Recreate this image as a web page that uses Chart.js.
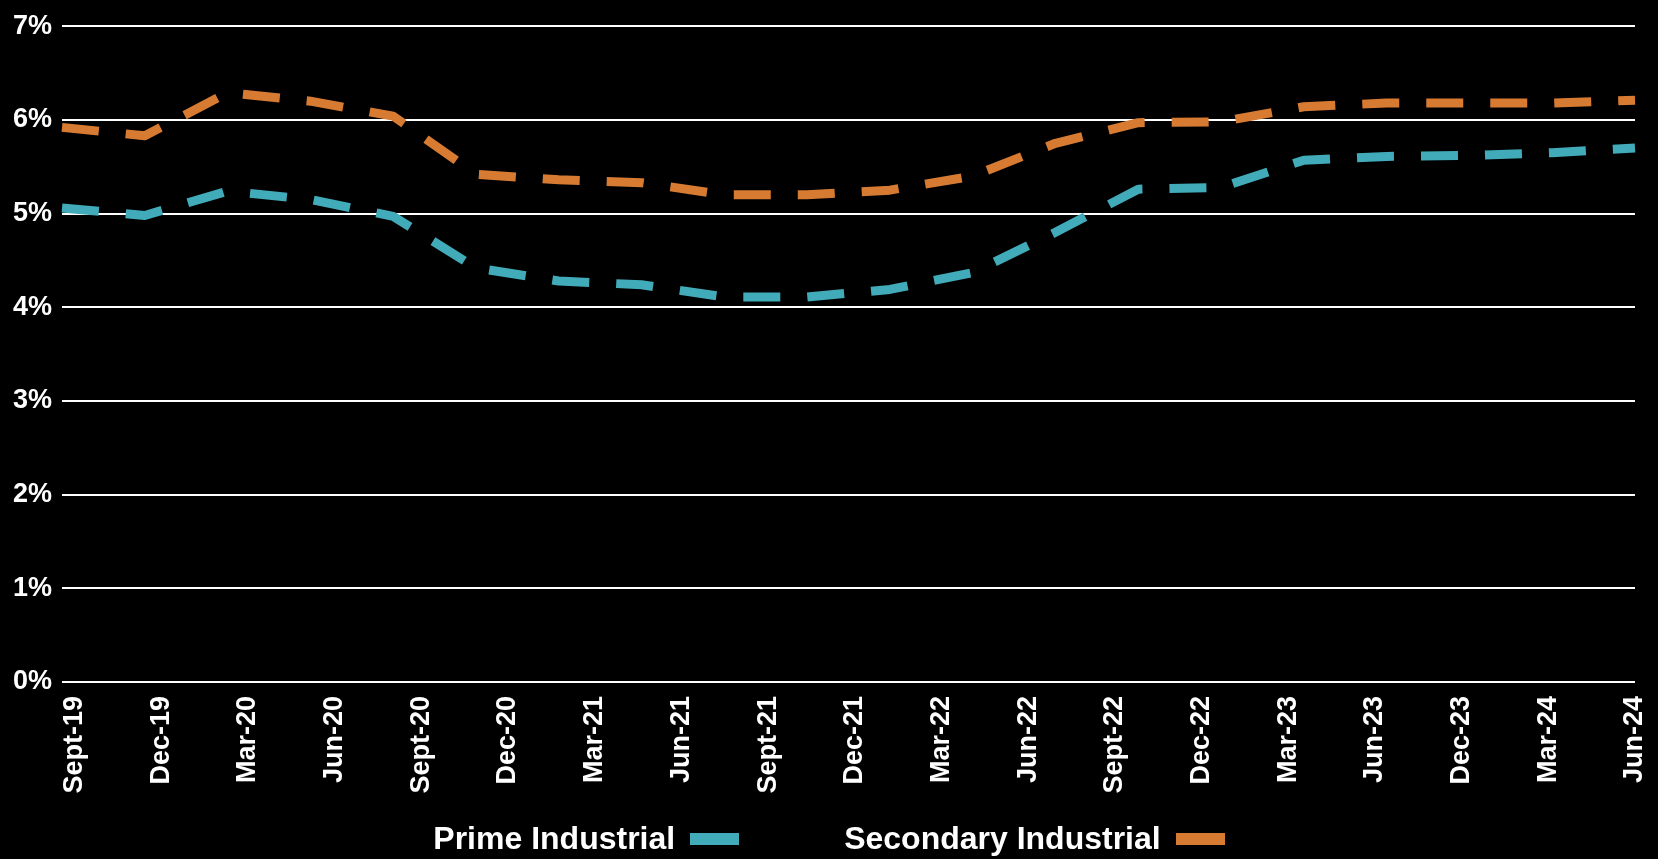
<!DOCTYPE html>
<html>
<head>
<meta charset="utf-8">
<script src="https://cdn.jsdelivr.net/npm/chart.js@4"></script>
<style>
  html, body { margin: 0; padding: 0; background: #000; }
  #wrap { position: relative; width: 1658px; height: 859px; overflow: hidden; }
  #legend {
    position: absolute; left: 0; right: 0; top: 822px;
    display: flex; justify-content: center; gap: 105px;
    font-family: "Liberation Sans", Arial, sans-serif;
    font-weight: bold; font-size: 32px; line-height: 32px;
    color: #fff; white-space: nowrap;
  }
  .swatch { display: inline-block; width: 49px; height: 12px; margin-left: 15px; vertical-align: 4px; }
</style>
</head>
<body>
<div id="wrap">
  <canvas id="chart"></canvas>
  <div id="legend"></div>
</div>
<script>
// quarterly data points (Sept-23 is plotted but has no label in the original)
const quarters = ["Sept-19", "Dec-19", "Mar-20", "Jun-20", "Sept-20", "Dec-20", "Mar-21", "Jun-21",
    "Sept-21", "Dec-21", "Mar-22", "Jun-22", "Sept-22", "Dec-22", "Mar-23", "Jun-23",
    "Sept-23", "Dec-23", "Mar-24", "Jun-24"];

// labels shown under the axis
const tickLabels = ["Sept-19", "Dec-19", "Mar-20", "Jun-20", "Sept-20", "Dec-20", "Mar-21", "Jun-21",
    "Sept-21", "Dec-21", "Mar-22", "Jun-22", "Sept-22", "Dec-22", "Mar-23", "Jun-23",
    "Dec-23", "Mar-24", "Jun-24"];

const primeIndustrial = [5.06, 4.98, 5.24, 5.15, 4.97, 4.42, 4.28, 4.24, 4.11, 4.11,
    4.19, 4.37, 4.80, 5.26, 5.28, 5.57, 5.61, 5.62, 5.65, 5.70];

const secondaryIndustrial = [5.92, 5.83, 6.29, 6.20, 6.04, 5.42, 5.36, 5.33, 5.20, 5.20,
    5.25, 5.40, 5.75, 5.97, 5.98, 6.14, 6.18, 6.18, 6.18, 6.21];

const seriesNames = ["Prime Industrial", "Secondary Industrial"];
const seriesColors = ["#41abb9", "#d87b32"];

Chart.defaults.font.family = '"Liberation Sans", Arial, sans-serif';

function makeDataset(label, data, color) {
    return {
        label: label,
        data: data,
        borderColor: color,
        backgroundColor: color,
        borderWidth: 9,
        borderDash: [37, 27],
        borderCapStyle: "butt",
        borderJoinStyle: "round",
        pointRadius: 0,
        tension: 0,
        fill: false
    };
}

const canvas = document.getElementById("chart");
canvas.width = 1658;
canvas.height = 859;

new Chart(canvas.getContext("2d"), {
    type: "line",
    data: {
        labels: quarters,
        datasets: [
            makeDataset(seriesNames[0], primeIndustrial, seriesColors[0]),
            makeDataset(seriesNames[1], secondaryIndustrial, seriesColors[1])
        ]
    },
    options: {
        responsive: false,
        animation: false,
        layout: { padding: { top: 22, right: 23, left: 0, bottom: 0 } },
        plugins: {
            legend: { display: false },
            tooltip: { enabled: false }
        },
        scales: {
            x: {
                type: "category",
                display: false
            },
            x2: {
                type: "linear",
                position: "bottom",
                min: -0.145,
                max: 18,
                grid: { display: false, drawTicks: false },
                border: { display: false },
                afterBuildTicks: (axis) => {
                    axis.ticks = tickLabels.map((t, i) => ({ value: i }));
                },
                afterFit: (axis) => {
                    axis.height = 177;
                    // the rotated last label would otherwise push the plot in
                    axis.paddingLeft = 0;
                    axis.paddingRight = 0;
                },
                ticks: {
                    autoSkip: false,
                    minRotation: 90,
                    maxRotation: 90,
                    padding: 14,
                    color: "#fff",
                    font: { size: 27, weight: "bold" },
                    callback: (value, index) => tickLabels[index]
                }
            },
            y: {
                min: 0,
                max: 7,
                grid: { color: "#fff", lineWidth: 2, drawTicks: false },
                border: { display: false },
                afterFit: (axis) => { axis.width = 62; },
                ticks: {
                    stepSize: 1,
                    padding: 10,
                    color: "#fff",
                    font: { size: 27, weight: "bold" },
                    callback: (value) => value + "%"
                }
            }
        }
    }
});

// legend with the colour box after the text, as in the original
const legend = document.getElementById("legend");
seriesNames.forEach((name, i) => {
    const item = document.createElement("span");
    item.textContent = name;
    const box = document.createElement("span");
    box.className = "swatch";
    box.style.background = seriesColors[i];
    item.appendChild(box);
    legend.appendChild(item);
});
</script>
</body>
</html>
